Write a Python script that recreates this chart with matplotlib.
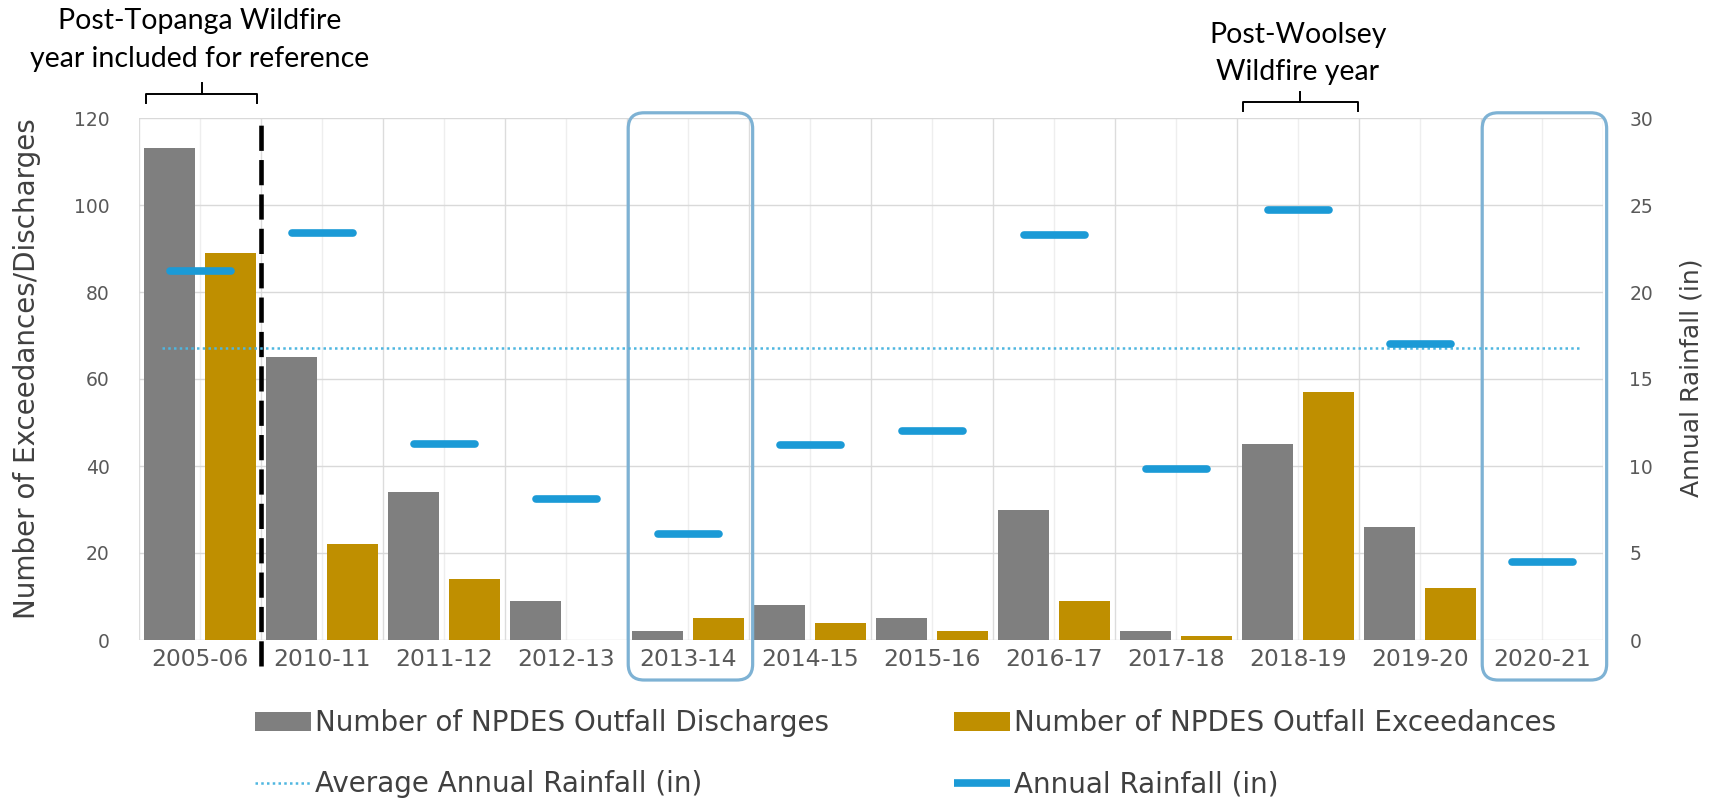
import numpy as np
import matplotlib.pyplot as plt
from matplotlib.patches import FancyBboxPatch

# -------------------------------------
# DATA
# -------------------------------------
years = ["2005-06", "2010-11", "2011-12", "2012-13", "2013-14", "2014-15",
         "2015-16", "2016-17", "2017-18", "2018-19", "2019-20", "2020-21"]
discharges = [113, 65, 34, 9, 2, 8, 5, 30, 2, 45, 26, 0]
exceedances = [89, 22, 14, 0, 5, 4, 2, 9, 1, 57, 12, 0]
rainfall = [21.2, 23.4, 11.25, 8.1, 6.1, 11.2, 12.0, 23.3, 9.8, 24.7, 17.0, 4.5]
avg_rainfall = 16.8
highlighted = ["2013-14", "2020-21"]

gray = "#7F7F7F"
gold = "#BF8F00"
rain_blue = "#1B9AD6"
avg_blue = "#4FB6E0"
box_blue = "#7EB2D4"
tick_color = "#595959"
label_color = "#404040"

W, H = 1723, 802
fig = plt.figure(figsize=(W / 100, H / 100), dpi=100)
ax_rect = [139 / W, 1 - 640 / H, 1464 / W, 522 / H]
ax = fig.add_axes(ax_rect)

x = np.arange(len(years))
b_dis = ax.bar(x - 0.25, discharges, 0.42, color=gray, zorder=2)
b_exc = ax.bar(x + 0.25, exceedances, 0.42, color=gold, zorder=2)

ax.set_xlim(x[0] - 0.5, x[-1] + 0.5)
ax.set_ylim(0, 120)
ax.set_yticks(range(0, 121, 20))
ax.set_xticks(x)
ax.set_xticklabels(years)

# grid
ax.set_axisbelow(True)
ax.yaxis.grid(True, color="#D9D9D9", lw=1)
for b in np.append(x - 0.5, x[-1] + 0.5):
    ax.axvline(b, color="#DCDCDC", lw=1, zorder=0)
for c in x:
    ax.axvline(c, color="#EEEEEE", lw=1, zorder=0)

for s in ax.spines.values():
    s.set_visible(False)
ax.tick_params(axis="y", length=0, pad=21, labelsize=13.5, labelcolor=tick_color)
ax.tick_params(axis="x", length=0, pad=6, labelsize=16.8, labelcolor=tick_color)

# rainfall axis
ax2 = ax.twinx()
ax2.set_ylim(0, 30)
ax2.set_yticks(range(0, 31, 5))
for s in ax2.spines.values():
    s.set_visible(False)
ax2.tick_params(axis="y", length=0, pad=19, labelsize=13.5, labelcolor=tick_color)

rain = ax2.hlines(rainfall, x - 0.25, x + 0.25, colors=rain_blue, lw=5.5,
                  capstyle="round", zorder=3)
avg_line, = ax2.plot([x[0] - 0.31, x[-1] + 0.32], [avg_rainfall, avg_rainfall],
                     color=avg_blue, lw=1.8, linestyle=(0, (1, 1.3)), zorder=2)

# split between 2005-06 and the later years
split = x[0] + 0.5
ax.plot([split, split], [-6, 120], color="black", lw=3.3,
        linestyle=(0, (5.5, 2)), zorder=5, clip_on=False)

# rounded highlight boxes
px_x = ax_rect[2] * W / len(years)
px_y = ax_rect[3] * H / 120
aspect = px_x / px_y
for yr in highlighted:
    i = years.index(yr)
    box = FancyBboxPatch((i - 0.49, -9.2), 1.02, 130.4,
                         boxstyle="round,pad=0,rounding_size=0.13",
                         mutation_aspect=aspect, transform=ax.transData,
                         fill=False, ec=box_blue, lw=2.3, zorder=6, clip_on=False)
    ax.add_patch(box)


# brackets and notes
def bracket(x0, x1, y, leg, tip):
    xm = (x0 + x1) / 2
    ax.plot([x0, x0, x1, x1], [y - leg, y, y, y - leg], color="black",
            lw=1.4, clip_on=False, zorder=6)
    ax.plot([xm, xm], [y, y + tip], color="black", lw=1.4, clip_on=False, zorder=6)


bracket(x[0] - 0.44, split - 0.03, 125.5, 2.1, 2.5)
bracket(x[9] - 0.45, x[9] + 0.49, 123.7, 2.1, 2.3)

note_font = dict(family="Lato", fontsize=20.5, color="black", ha="center",
                 va="baseline", clip_on=False)
ax.text(x[0], 140.5, "Post-Topanga Wildfire", **note_font)
ax.text(x[0], 131.7, "year included for reference", **note_font)
ax.text(x[9], 137.2, "Post-Woolsey", **note_font)
ax.text(x[9], 128.7, "Wildfire year", **note_font)

# axis titles
fig.text(27 / W, 1 - 369 / H, "Number of Exceedances/Discharges", rotation=90,
         ha="center", va="center", fontsize=20, color=label_color)
fig.text(1692 / W, 1 - 378 / H, "Annual Rainfall (in)", rotation=90,
         ha="center", va="center", fontsize=18, color=label_color)

# legends, one per column
leg_kw = dict(loc="upper left", frameon=False, fontsize=20, handlelength=2.0,
              handleheight=0.7, handletextpad=0.15, labelspacing=1.2,
              borderpad=0, borderaxespad=0, labelcolor=label_color)
fig.legend([b_dis, avg_line],
           ["Number of NPDES Outfall Discharges", "Average Annual Rainfall (in)"],
           bbox_to_anchor=(255 / W, 1 - 709 / H), **leg_kw)
fig.legend([b_exc, rain],
           ["Number of NPDES Outfall Exceedances", "Annual Rainfall (in)"],
           bbox_to_anchor=(954 / W, 1 - 709 / H), **leg_kw)

fig.savefig("out.png", dpi=100)
